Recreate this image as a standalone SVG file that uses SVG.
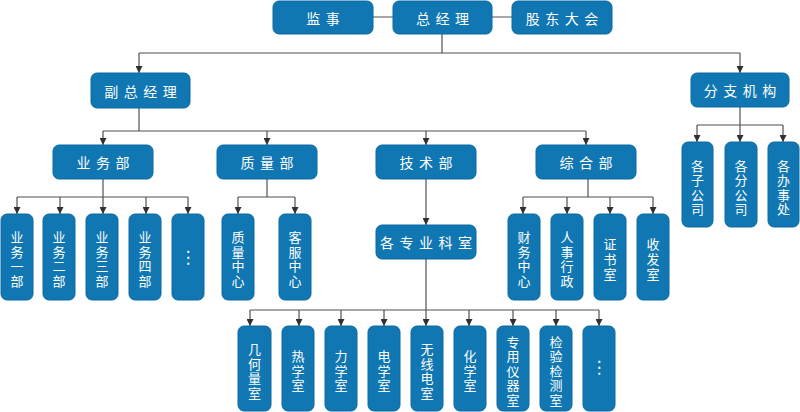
<svg xmlns="http://www.w3.org/2000/svg" width="800" height="412" viewBox="0 0 800 412">
<defs>
<style>
.n rect{fill:#1077b2;stroke:#0d6aa2;stroke-width:1}
.n text{fill:#fff;font-family:"Noto Sans CJK SC","Noto Sans",sans-serif;font-size:14px;dominant-baseline:central}
.h text{text-anchor:middle;letter-spacing:5.5px}
.v text{text-anchor:middle;font-size:13px}
.d text{font-family:"DejaVu Sans",sans-serif;font-size:17px;text-anchor:middle}
.c path{fill:none;stroke:#505050;stroke-width:1.2}
.c .a{marker-end:url(#arr)}
</style>
<marker id="arr" viewBox="0 0 10 10" refX="10" refY="5" markerWidth="7" markerHeight="7" markerUnits="userSpaceOnUse" orient="auto">
<path d="M0,0 L10,5 L0,10 z" fill="#303030"/>
</marker>
</defs>
<rect width="800" height="412" fill="#fff"/>

<g class="c" id="connectors">
<path d="M373,17 H393 M492,17 H512"/>
<path d="M442,34 V53 M139,53 H740"/>
<path class="a" d="M139,53 V73"/>
<path class="a" d="M740,53 V73"/>
<path d="M139,108 V131 M103,131 H586"/>
<path class="a" d="M103,131 V145"/>
<path class="a" d="M267,131 V145"/>
<path class="a" d="M426,131 V145"/>
<path class="a" d="M586,131 V145"/>
<path d="M103,179 V197 M17,197 H188"/>
<path class="a" d="M17,197 V214"/>
<path class="a" d="M60,197 V214"/>
<path class="a" d="M103,197 V214"/>
<path class="a" d="M146,197 V214"/>
<path class="a" d="M188,197 V214"/>
<path d="M267,179 V197 M238,197 H295"/>
<path class="a" d="M238,197 V214"/>
<path class="a" d="M295,197 V214"/>
<path class="a" d="M426,179 V225"/>
<path d="M426,259 V310 M250,310 H599"/>
<path class="a" d="M250,310 V326"/>
<path class="a" d="M299,310 V326"/>
<path class="a" d="M341,310 V326"/>
<path class="a" d="M384,310 V326"/>
<path class="a" d="M426,310 V326"/>
<path class="a" d="M469,310 V326"/>
<path class="a" d="M513,310 V326"/>
<path class="a" d="M556,310 V326"/>
<path class="a" d="M599,310 V326"/>
<path d="M588,179 V197 M523,197 H653"/>
<path class="a" d="M523,197 V214"/>
<path class="a" d="M567,197 V214"/>
<path class="a" d="M610,197 V214"/>
<path class="a" d="M653,197 V214"/>
<path d="M740,107 V125 M697,125 H783"/>
<path class="a" d="M697,125 V142"/>
<path class="a" d="M740,125 V142"/>
<path class="a" d="M783,125 V142"/>
</g>

<g id="jianshi" class="n h"><rect x="273" y="1" width="100" height="33" rx="6"/><text x="325.75" y="17.5">监事</text></g>
<g id="zongjingli" class="n h"><rect x="393" y="1" width="99" height="33" rx="6"/><text x="445.25" y="17.5">总经理</text></g>
<g id="gudong" class="n h"><rect x="512" y="1" width="100" height="33" rx="6"/><text x="564.75" y="17.5">股东大会</text></g>

<g id="fuzong" class="n h"><rect x="91" y="73" width="99" height="35" rx="6"/><text x="143.25" y="90.5">副总经理</text></g>
<g id="fenzhi" class="n h"><rect x="691" y="73" width="98" height="34" rx="6"/><text x="742.75" y="90">分支机构</text></g>

<g id="yewubu" class="n h"><rect x="53" y="145" width="100" height="34" rx="6"/><text x="105.75" y="162">业务部</text></g>
<g id="zhiliangbu" class="n h"><rect x="217" y="145" width="100" height="34" rx="6"/><text x="269.75" y="162">质量部</text></g>
<g id="jishubu" class="n h"><rect x="376" y="145" width="100" height="34" rx="6"/><text x="428.75" y="162">技术部</text></g>
<g id="zonghebu" class="n h"><rect x="536" y="145" width="100" height="34" rx="6"/><text x="588.75" y="162">综合部</text></g>
<g id="kes" class="n h"><rect x="376" y="225" width="100" height="34" rx="6"/><text x="428.75" y="242">各专业科室</text></g>

<g id="yw1" class="n v"><rect x="1" y="214" width="32" height="86" rx="6"/><text><tspan x="17" y="236">业</tspan><tspan x="17" y="250.7">务</tspan><tspan x="17" y="265.3">一</tspan><tspan x="17" y="280">部</tspan></text></g>
<g id="yw2" class="n v"><rect x="43" y="214" width="32" height="86" rx="6"/><text><tspan x="59" y="236">业</tspan><tspan x="59" y="250.7">务</tspan><tspan x="59" y="265.3">二</tspan><tspan x="59" y="280">部</tspan></text></g>
<g id="yw3" class="n v"><rect x="86" y="214" width="32" height="86" rx="6"/><text><tspan x="102" y="236">业</tspan><tspan x="102" y="250.7">务</tspan><tspan x="102" y="265.3">三</tspan><tspan x="102" y="280">部</tspan></text></g>
<g id="yw4" class="n v"><rect x="129" y="214" width="32" height="86" rx="6"/><text><tspan x="145" y="236">业</tspan><tspan x="145" y="250.7">务</tspan><tspan x="145" y="265.3">四</tspan><tspan x="145" y="280">部</tspan></text></g>
<g id="yw5" class="n d"><rect x="172" y="214" width="32" height="86" rx="6"/><text x="188" y="257">⋮</text></g>

<g id="zlzx" class="n v"><rect x="222" y="214" width="32" height="86" rx="6"/><text><tspan x="238" y="236">质</tspan><tspan x="238" y="250.7">量</tspan><tspan x="238" y="265.3">中</tspan><tspan x="238" y="280">心</tspan></text></g>
<g id="kfzx" class="n v"><rect x="279" y="214" width="32" height="86" rx="6"/><text><tspan x="295" y="236">客</tspan><tspan x="295" y="250.7">服</tspan><tspan x="295" y="265.3">中</tspan><tspan x="295" y="280">心</tspan></text></g>

<g id="cwzx" class="n v"><rect x="508" y="214" width="32" height="86" rx="6"/><text><tspan x="524" y="236">财</tspan><tspan x="524" y="250.7">务</tspan><tspan x="524" y="265.3">中</tspan><tspan x="524" y="280">心</tspan></text></g>
<g id="rsxz" class="n v"><rect x="551" y="214" width="32" height="86" rx="6"/><text><tspan x="567" y="236">人</tspan><tspan x="567" y="250.7">事</tspan><tspan x="567" y="265.3">行</tspan><tspan x="567" y="280">政</tspan></text></g>
<g id="zss" class="n v"><rect x="594" y="214" width="32" height="86" rx="6"/><text><tspan x="610" y="243.3">证</tspan><tspan x="610" y="258">书</tspan><tspan x="610" y="272.7">室</tspan></text></g>
<g id="sfs" class="n v"><rect x="637" y="214" width="32" height="86" rx="6"/><text><tspan x="653" y="243.3">收</tspan><tspan x="653" y="258">发</tspan><tspan x="653" y="272.7">室</tspan></text></g>

<g id="gzgs" class="n v"><rect x="682" y="142" width="31" height="85" rx="6"/><text><tspan x="697.5" y="164.5">各</tspan><tspan x="697.5" y="179">子</tspan><tspan x="697.5" y="193.5">公</tspan><tspan x="697.5" y="208">司</tspan></text></g>
<g id="gfgs" class="n v"><rect x="725" y="142" width="32" height="85" rx="6"/><text><tspan x="741" y="164.5">各</tspan><tspan x="741" y="179">分</tspan><tspan x="741" y="193.5">公</tspan><tspan x="741" y="208">司</tspan></text></g>
<g id="gbsc" class="n v"><rect x="768" y="142" width="31" height="85" rx="6"/><text><tspan x="783.5" y="164.5">各</tspan><tspan x="783.5" y="179">办</tspan><tspan x="783.5" y="193.5">事</tspan><tspan x="783.5" y="208">处</tspan></text></g>

<g id="jhl" class="n v"><rect x="238" y="326" width="33" height="85" rx="6"/><text><tspan x="254.5" y="348">几</tspan><tspan x="254.5" y="362.5">何</tspan><tspan x="254.5" y="377">量</tspan><tspan x="254.5" y="391.5">室</tspan></text></g>
<g id="rxs" class="n v"><rect x="282" y="326" width="32" height="85" rx="6"/><text><tspan x="298" y="355">热</tspan><tspan x="298" y="369.5">学</tspan><tspan x="298" y="384">室</tspan></text></g>
<g id="lxs" class="n v"><rect x="325" y="326" width="32" height="85" rx="6"/><text><tspan x="341" y="355">力</tspan><tspan x="341" y="369.5">学</tspan><tspan x="341" y="384">室</tspan></text></g>
<g id="dxs" class="n v"><rect x="368" y="326" width="32" height="85" rx="6"/><text><tspan x="384" y="355">电</tspan><tspan x="384" y="369.5">学</tspan><tspan x="384" y="384">室</tspan></text></g>
<g id="wxd" class="n v"><rect x="411" y="326" width="32" height="85" rx="6"/><text><tspan x="427" y="348">无</tspan><tspan x="427" y="362.5">线</tspan><tspan x="427" y="377">电</tspan><tspan x="427" y="391.5">室</tspan></text></g>
<g id="hxs" class="n v"><rect x="454" y="326" width="32" height="85" rx="6"/><text><tspan x="470" y="355">化</tspan><tspan x="470" y="369.5">学</tspan><tspan x="470" y="384">室</tspan></text></g>
<g id="zyyq" class="n v"><rect x="497" y="326" width="32" height="85" rx="6"/><text><tspan x="513" y="340.5">专</tspan><tspan x="513" y="355">用</tspan><tspan x="513" y="369.5">仪</tspan><tspan x="513" y="384">器</tspan><tspan x="513" y="398.5">室</tspan></text></g>
<g id="jyjc" class="n v"><rect x="540" y="326" width="32" height="85" rx="6"/><text><tspan x="556" y="340.5">检</tspan><tspan x="556" y="355">验</tspan><tspan x="556" y="369.5">检</tspan><tspan x="556" y="384">测</tspan><tspan x="556" y="398.5">室</tspan></text></g>
<g id="more2" class="n d"><rect x="583" y="326" width="32" height="85" rx="6"/><text x="599" y="367">⋮</text></g>
</svg>
